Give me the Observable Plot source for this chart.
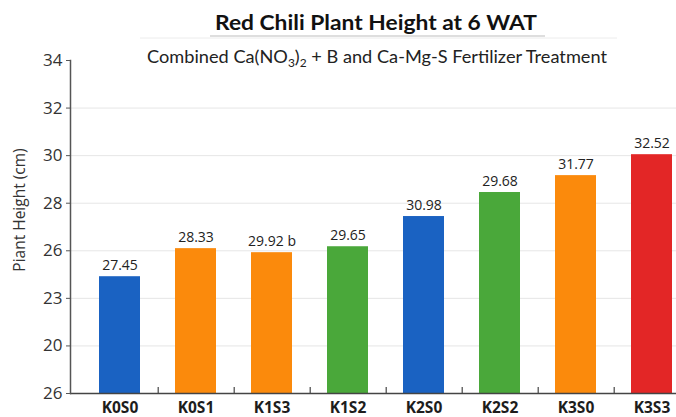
<!DOCTYPE html>
<html>
<head>
<meta charset="utf-8">
<script src="https://cdn.jsdelivr.net/npm/d3@7"></script>
<script src="https://cdn.jsdelivr.net/npm/@observablehq/plot@0.6"></script>
<style>
  html, body { margin: 0; padding: 0; background: #fff; }
  #chart { width: 676px; height: 417px; }
</style>
</head>
<body>
<div id="chart"></div>
<script>
// Data
const categories = ["K0S0", "K0S1", "K1S3", "K1S2", "K2S0", "K2S2", "K3S0", "K3S3"];
// bar heights on the evenly spaced vertical axis (ticks every 2 units, bottom = 20)
const heights = [24.91, 26.09, 25.92, 26.17, 27.44, 28.45, 29.16, 30.04];
// printed value labels above bars (as shown)
const valueLabels = ["27.45", "28.33", "29.92 b", "29.65", "30.98", "29.68", "31.77", "32.52"];
const barColors = ["#1a62c2", "#fb8a0c", "#fb8a0c", "#4aa83a", "#1a62c2", "#4aa83a", "#fb8a0c", "#e32626"];
const yTickValues = [20, 22, 24, 26, 28, 30, 32, 34];
const yTickLabels = ["26", "20", "23", "26", "28", "30", "32", "34"];
const gridValues = [22, 24, 26, 28, 30, 32];
const titleText = "Red Chili Plant Height at 6 WAT";
const yLabel = "Piant Height (cm)";

const data = categories.map((c, i) => ({cat: c, h: heights[i], label: valueLabels[i], color: barColors[i]}));

const step = 76.4;
const svg = Plot.plot({
  width: 676,
  height: 417,
  marginTop: 60,
  marginBottom: 24,
  marginLeft: 70,
  marginRight: 0,
  style: {fontFamily: "'Open Sans', sans-serif", background: "#fff"},
  x: {type: "band", domain: categories, range: [80, 80 + 8 * step], paddingInner: 0.46, paddingOuter: 0.23, axis: null},
  y: {type: "linear", domain: [20, 34], axis: null},
  marks: [
    Plot.ruleY(gridValues, {stroke: "#e6e6e6", strokeWidth: 1}),
    Plot.barY(data, {x: "cat", y1: 20, y2: "h", fill: "color"}),
    Plot.text(data, {x: "cat", y: "h", text: "label", dy: -11, fontSize: 14, fill: "#222"}),
    Plot.text(data, {x: "cat", y: 20, text: "cat", dy: 15, fontSize: 15.5, fontWeight: 700, fill: "#1d1d1d"}),
    Plot.ruleY([20], {stroke: "#444", strokeWidth: 1.5}),
    Plot.ruleX(categories.slice(0, 7), {x: d => d, y1: 20, y2: 20.25, dx: step / 2, stroke: "#444", strokeWidth: 1.2}),
    Plot.frame({anchor: "left", stroke: "#555", strokeWidth: 1.5}),
    Plot.axisY({ticks: yTickValues, tickFormat: (d, i) => yTickLabels[i], tickSize: 4, tickPadding: 4,
      fontSize: 17, fill: "#333", stroke: "#555", label: null})
  ]
});
document.getElementById("chart").appendChild(svg);

const s = d3.select(svg);
s.append("text").attr("transform", "translate(25,210) rotate(-90)").attr("text-anchor", "middle")
  .attr("font-family", "'Open Sans', sans-serif").attr("font-size", 15.5).attr("fill", "#333")
  .text(yLabel);
s.append("line").attr("x1", 140).attr("x2", 617).attr("y1", 38).attr("y2", 38).attr("stroke", "#ececec").attr("stroke-width", 1);
s.append("line").attr("x1", 210).attr("x2", 545).attr("y1", 36).attr("y2", 36).attr("stroke", "#bdbdbd").attr("stroke-width", 1.2);
s.append("text").attr("x", 376).attr("y", 29.5).attr("text-anchor", "middle")
  .attr("font-family", "Lato, 'Open Sans', sans-serif").attr("font-weight", 700).attr("font-size", 21)
  .attr("fill", "#111").attr("textLength", 322).attr("lengthAdjust", "spacingAndGlyphs").text(titleText);
const sub = s.append("text").attr("x", 377).attr("y", 63).attr("text-anchor", "middle")
  .attr("font-family", "Lato, 'Open Sans', sans-serif").attr("font-size", 17.5).attr("fill", "#222")
  .attr("textLength", 460).attr("lengthAdjust", "spacingAndGlyphs");
sub.append("tspan").text("Combined Ca(NO");
sub.append("tspan").attr("dy", 4).attr("font-size", 11.5).text("3");
sub.append("tspan").attr("dy", -4).text(")");
sub.append("tspan").attr("dy", 4).attr("font-size", 11.5).text("2");
sub.append("tspan").attr("dy", -4).text(" + B and Ca-Mg-S Fertilizer Treatment");
</script>
</body>
</html>
